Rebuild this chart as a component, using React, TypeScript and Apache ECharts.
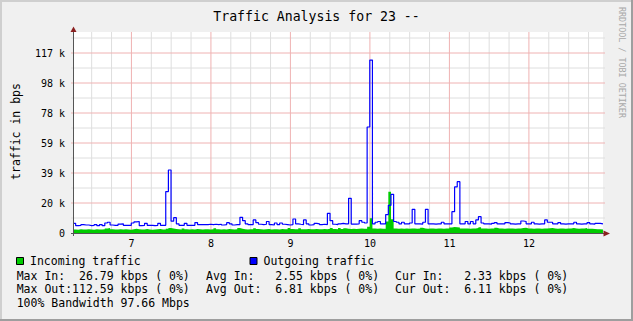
import React, { useEffect, useRef } from "react";
import * as echarts from "echarts";

const TITLE = "Traffic Analysis for 23 --";
const Y_AXIS_TITLE = "traffic in bps";
const WATERMARK = "RRDTOOL / TOBI OETIKER";

// time axis, in hours of the day
const X_MIN = 6.265;
const X_MAX = 12.932;
const SAMPLE_START = 6.265;
const SAMPLE_STEP_HOURS = 2 / 60;

const xMajorTicks = [7, 8, 9, 10, 11, 12];
const xMinorTicks = [
  6.5, 6.75, 7.25, 7.5, 7.75, 8.25, 8.5, 8.75, 9.25, 9.5, 9.75, 10.25, 10.5, 10.75,
  11.25, 11.5, 11.75, 12.25, 12.5, 12.75,
];

// value axis, bits per second
const Y_MAX = 130859.375;
const Y_STEP = 19531.25;
const yMajorTicks = [0, 19531.25, 39062.5, 58593.75, 78125, 97656.25, 117187.5];
const yMinorTicks = [9765.625, 29296.875, 48828.125, 68359.375, 87890.625, 107421.875, 126953.125];

// 2-minute samples, kbps
const incomingKbps = [
  2.3, 2.1, 2.4, 2.2, 2.3, 2.5, 2.2, 2.1, 2.4, 2.3,
  2.2, 2.4, 3.0, 3.2, 2.4, 2.2, 2.3, 2.5, 2.2, 2.4,
  2.3, 2.1, 2.5, 2.7, 2.4, 2.2, 2.3, 2.6, 2.2, 2.1,
  2.3, 2.4, 2.6, 2.2, 2.3, 2.8, 3.3, 3.0, 2.6, 2.4,
  2.3, 3.0, 2.5, 2.2, 2.4, 2.3, 2.6, 2.4, 2.2, 2.5,
  2.4, 2.3, 2.5, 3.1, 2.4, 2.2, 2.5, 2.3, 2.6, 2.4,
  2.3, 2.5, 3.2, 2.8, 2.4, 2.3, 2.5, 2.4, 3.1, 2.6,
  2.4, 2.3, 2.5, 2.6, 2.3, 2.4, 2.5, 2.3, 2.6, 2.4,
  2.5, 3.2, 2.6, 2.4, 2.5, 3.1, 2.5, 2.4, 2.6, 2.5,
  2.4, 2.6, 2.5, 2.4, 2.6, 2.5, 2.7, 3.3, 2.6, 2.5,
  3.2, 2.6, 3.1, 2.7, 2.6, 2.8, 2.6, 2.7, 2.9, 2.7,
  2.8, 4.0, 9.6, 3.0, 2.8, 2.9, 2.7, 2.8, 7.5, 26.8,
  9.0, 3.0, 2.8, 2.9, 2.7, 3.0, 2.8, 2.9, 3.0, 2.8,
  2.9, 3.4, 3.0, 2.8, 2.9, 3.0, 2.8, 2.9, 3.0, 2.8,
  2.9, 3.0, 3.6, 3.9, 3.8, 3.5, 3.0, 2.9, 3.0, 2.8,
  2.9, 3.0, 3.2, 3.7, 3.0, 2.9, 2.8, 3.0, 2.9, 3.4,
  3.0, 2.9, 2.8, 3.0, 2.9, 3.0, 2.8, 2.9, 3.0, 3.2,
  3.4, 3.0, 2.9, 2.8, 3.0, 2.9, 2.8, 3.0, 2.9, 3.1,
  3.3, 2.9, 2.8, 3.0, 2.9, 2.8, 3.0, 2.9, 3.3, 2.9,
  2.8, 2.9, 3.0, 3.3, 2.8, 2.7, 2.6, 2.5, 2.4, 2.3,
  2.3,
];

const outgoingKbps = [
  6.3, 4.8, 5.0, 5.5, 5.2, 5.2, 4.8, 5.0, 5.5, 4.8,
  5.5, 4.8, 6.5, 7.0, 5.2, 5.0, 5.0, 5.8, 6.0, 5.0,
  5.0, 5.0, 6.5, 7.2, 7.5, 4.8, 5.0, 6.3, 5.0, 5.0,
  4.8, 5.0, 6.3, 5.0, 5.0, 27.0, 41.0, 7.7, 10.0, 6.0,
  5.0, 5.0, 6.3, 5.0, 5.0, 5.0, 6.8, 5.5, 5.5, 5.5,
  5.5, 5.7, 5.5, 5.7, 5.5, 5.7, 5.2, 5.5, 6.7, 6.0,
  5.2, 5.5, 5.5, 10.2, 8.0, 6.0, 5.5, 5.5, 8.5, 6.7,
  5.7, 5.5, 5.7, 7.5, 5.5, 5.2, 6.5, 5.5, 6.5, 5.7,
  5.5, 5.2, 5.5, 9.1, 6.0, 5.7, 5.5, 8.5, 6.0, 5.2,
  5.5, 6.3, 6.0, 5.5, 5.7, 5.5, 12.8, 8.0, 5.7, 5.5,
  6.0, 6.3, 6.0, 6.0, 22.6, 5.8, 5.8, 6.0, 8.0, 7.0,
  6.5, 69.0, 112.6, 6.0, 7.0, 7.5, 6.0, 6.0, 12.0, 18.0,
  25.2, 7.5, 7.0, 6.0, 7.0, 6.0, 6.0, 6.5, 15.4, 6.0,
  6.0, 5.8, 7.0, 15.4, 6.0, 6.0, 5.8, 6.0, 6.0, 7.0,
  6.0, 6.0, 6.0, 13.9, 30.0, 33.4, 6.0, 6.0, 7.5, 6.0,
  7.5, 6.0, 8.5, 10.6, 6.5, 6.0, 6.0, 5.8, 6.3, 6.8,
  6.0, 6.0, 6.0, 6.8, 6.5, 6.0, 5.8, 6.0, 6.0, 7.8,
  7.5, 6.0, 6.0, 7.0, 6.0, 5.8, 6.0, 6.0, 8.5, 7.0,
  7.0, 6.0, 6.0, 6.8, 6.0, 5.8, 6.0, 6.0, 6.0, 7.0,
  6.0, 5.8, 6.0, 6.0, 6.8, 6.0, 5.8, 6.3, 6.3, 6.0,
  6.1,
];

const legendEntries = [
  { name: "Incoming traffic", color: "#00CC00" },
  { name: "Outgoing traffic", color: "#0000FF" },
];

const statRows = [
  [
    { label: "Max In:", value: "26.79 kbps ( 0%)", col: 9 },
    { label: "Avg In:", value: "2.55 kbps ( 0%)", col: 10 },
    { label: "Cur In:", value: "2.33 kbps ( 0%)", col: 10 },
  ],
  [
    { label: "Max Out:", value: "112.59 kbps ( 0%)", col: 8 },
    { label: "Avg Out:", value: "6.81 kbps ( 0%)", col: 10 },
    { label: "Cur Out:", value: "6.11 kbps ( 0%)", col: 10 },
  ],
];
const bandwidthNote = "100% Bandwidth 97.66 Mbps";

// ---- styling / layout ----
const W = 633;
const H = 321;
const FONT = '"DejaVu Sans Mono", monospace';
const GRID = { left: 73, top: 32, width: 530, height: 201 };
const COLOR_BG = "#F0F0F0";
const SHADE_A = "#CFCFCF";
const SHADE_B = "#9E9E9E";
const GRID_MINOR = "#DEDEDE";
const GRID_MAJOR = "#EFB2B2";
const AXIS_COLOR = "#555555";
const ARROW_COLOR = "#8A2020";
const LEGEND_FONT = 11.5;
const CHAR_W = LEGEND_FONT * 0.602;
const STAT_COL_X = [16.7, 206, 395];
const LEGEND_X = [16, 249.5];
const LEGEND_Y = 261;
const STAT_ROW_Y = [275.7, 289, 303.3];

function isMultiple(v: number, step: number) {
  const r = v / step;
  return Math.abs(r - Math.round(r)) < 1e-6;
}

function txt(
  text: string,
  x: number,
  y: number,
  size: number,
  opts: { align?: string; fill?: string; rotation?: number } = {}
) {
  const align = opts.align || "left";
  return {
    type: "text",
    x,
    y,
    rotation: opts.rotation || 0,
    z: 20,
    silent: true,
    style: {
      text,
      font: `${size}px ${FONT}`,
      fill: opts.fill || "#000000",
      align,
      textAlign: align,
      verticalAlign: "middle",
      textVerticalAlign: "middle",
    },
  };
}

export default function App() {
  const ref = useRef<HTMLDivElement>(null);

  useEffect(() => {
    if (!ref.current) return;
    const chart = echarts.init(ref.current, undefined, { renderer: "svg", width: W, height: H });

    const incoming = incomingKbps.map((v, i) => [SAMPLE_START + i * SAMPLE_STEP_HOURS, v * 1000]);
    const outgoing = outgoingKbps.map((v, i) => [SAMPLE_START + i * SAMPLE_STEP_HOURS, v * 1000]);

    const left = GRID.left;
    const top = GRID.top;
    const bottom = GRID.top + GRID.height;
    const right = GRID.left + GRID.width;

    // grid lines, drawn through the axes' own scales with convertToPixel after init
    const graphics: any[] = [
      // plot canvas
      {
        type: "rect",
        z: -10,
        silent: true,
        shape: { x: left, y: top, width: GRID.width, height: GRID.height },
        style: { fill: "#FFFFFF" },
      },
      // 3D border
      { type: "rect", z: 30, silent: true, shape: { x: 0, y: 0, width: W, height: 2 }, style: { fill: SHADE_A } },
      { type: "rect", z: 30, silent: true, shape: { x: 0, y: 0, width: 2, height: H }, style: { fill: SHADE_A } },
      { type: "rect", z: 31, silent: true, shape: { x: 0, y: H - 2, width: W, height: 2 }, style: { fill: SHADE_B } },
      { type: "rect", z: 31, silent: true, shape: { x: W - 2, y: 0, width: 2, height: H }, style: { fill: SHADE_B } },
      // axes
      {
        type: "line",
        z: 20,
        silent: true,
        shape: { x1: left + 0.5, y1: top - 1, x2: left + 0.5, y2: bottom + 3 },
        style: { stroke: AXIS_COLOR, lineWidth: 1 },
      },
      {
        type: "line",
        z: 20,
        silent: true,
        shape: { x1: left - 2, y1: bottom + 0.5, x2: right + 1, y2: bottom + 0.5 },
        style: { stroke: AXIS_COLOR, lineWidth: 1 },
      },
      {
        type: "polygon",
        z: 21,
        silent: true,
        shape: { points: [[left - 2.5, top], [left + 3.5, top], [left + 0.5, top - 5.5]] },
        style: { fill: ARROW_COLOR },
      },
      {
        type: "polygon",
        z: 21,
        silent: true,
        shape: { points: [[right + 0.5, bottom - 2.5], [right + 0.5, bottom + 3.5], [right + 7, bottom + 0.5]] },
        style: { fill: ARROW_COLOR },
      },
      // texts
      txt(TITLE, 316.5, 16.5, 13.2, { align: "center" }),
      txt(Y_AXIS_TITLE, 15.5, 131.5, 11.5, { align: "center", rotation: Math.PI / 2 }),
      txt(WATERMARK, 621.5, 62.5, 8.4, { align: "center", rotation: -Math.PI / 2, fill: "#A8A8A8" }),
    ];

    legendEntries.forEach((e, i) => {
      const x = LEGEND_X[i];
      graphics.push({
        type: "rect",
        z: 20,
        silent: true,
        shape: { x: x + 0.5, y: LEGEND_Y - 3.5, width: 7, height: 7 },
        style: { fill: e.color, stroke: "#000000", lineWidth: 1 },
      });
      graphics.push(txt(e.name, x + 14, LEGEND_Y, LEGEND_FONT));
    });

    statRows.forEach((row, r) => {
      row.forEach((cell, c) => {
        const x = STAT_COL_X[c];
        graphics.push(txt(cell.label, x, STAT_ROW_Y[r], LEGEND_FONT));
        graphics.push(txt(cell.value, x + cell.col * CHAR_W, STAT_ROW_Y[r], LEGEND_FONT));
      });
    });
    graphics.push(txt(bandwidthNote, STAT_COL_X[0], STAT_ROW_Y[2], LEGEND_FONT));

    const option: any = {
      animation: false,
      backgroundColor: COLOR_BG,
      grid: {
        left: GRID.left,
        top: GRID.top,
        width: GRID.width,
        height: GRID.height,
        show: false,
      },
      xAxis: {
        type: "value",
        min: X_MIN,
        max: X_MAX,
        axisLine: { show: false },
        axisTick: { show: false },
        splitLine: { show: false },
        axisLabel: {
          customValues: xMajorTicks,
          formatter: (v: number) => (isMultiple(v, 1) ? String(Math.round(v)) : ""),
          margin: 5,
          color: "#000000",
          fontFamily: FONT,
          fontSize: 10,
        },
      },
      yAxis: {
        type: "value",
        min: 0,
        max: Y_MAX,
        interval: Y_STEP,
        axisLine: { show: false },
        axisTick: { show: false },
        splitLine: { show: false },
        axisLabel: {
          customValues: yMajorTicks,
          formatter: (v: number) =>
            v === 0 ? "0" : isMultiple(v, Y_STEP) ? `${Math.round(v / 1000)} k` : "",
          margin: 8,
          color: "#000000",
          fontFamily: FONT,
          fontSize: 10,
        },
      },
      series: [
        {
          name: legendEntries[0].name,
          type: "line",
          step: "end",
          data: incoming,
          symbol: "none",
          showSymbol: false,
          silent: true,
          z: 3,
          lineStyle: { width: 0, opacity: 0 },
          areaStyle: { color: legendEntries[0].color, opacity: 1 },
        },
        {
          name: legendEntries[1].name,
          type: "line",
          step: "end",
          data: outgoing,
          symbol: "none",
          showSymbol: false,
          silent: true,
          z: 4,
          lineStyle: { width: 1.2, color: legendEntries[1].color },
        },
      ],
      graphic: { elements: graphics },
    };

    chart.setOption(option);

    // grid lines placed through the chart's own axis scales
    const gridLines: any[] = [];
    const addV = (v: number, color: string) => {
      const p = chart.convertToPixel({ gridIndex: 0 }, [v, 0]) as number[];
      gridLines.push({
        type: "line",
        z: -5,
        silent: true,
        shape: { x1: p[0], y1: top, x2: p[0], y2: bottom },
        style: { stroke: color, lineWidth: 1 },
      });
    };
    const addH = (v: number, color: string) => {
      const p = chart.convertToPixel({ gridIndex: 0 }, [X_MIN, v]) as number[];
      gridLines.push({
        type: "line",
        z: -5,
        silent: true,
        shape: { x1: left - 2, y1: p[1], x2: right + 2, y2: p[1] },
        style: { stroke: color, lineWidth: 1 },
      });
    };
    xMinorTicks.forEach((v) => addV(v, GRID_MINOR));
    yMinorTicks.forEach((v) => addH(v, GRID_MINOR));
    xMajorTicks.forEach((v) => addV(v, GRID_MAJOR));
    yMajorTicks.filter((v) => v > 0).forEach((v) => addH(v, GRID_MAJOR));

    chart.setOption({ graphic: { elements: [...graphics, ...gridLines] } }, { replaceMerge: ["graphic"] });

    return () => chart.dispose();
  }, []);

  return (
    <div
      ref={ref}
      style={{ position: "absolute", left: 0, top: 0, width: W, height: H }}
    />
  );
}
